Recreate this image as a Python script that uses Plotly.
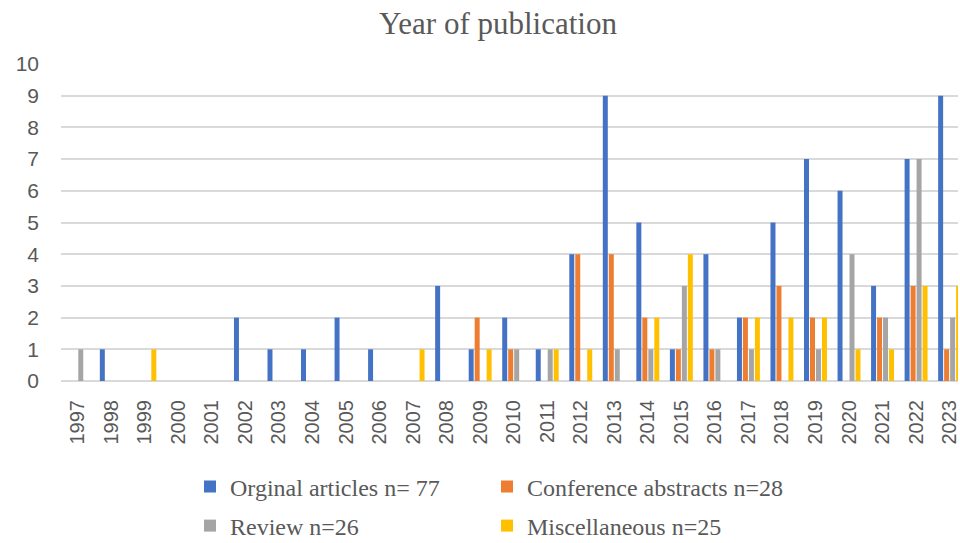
import plotly.graph_objects as go

# Publication counts per year, split by type of publication
years = ["1997", "1998", "1999", "2000", "2001", "2002", "2003", "2004", "2005",
         "2006", "2007", "2008", "2009", "2010", "2011", "2012", "2013", "2014",
         "2015", "2016", "2017", "2018", "2019", "2020", "2021", "2022", "2023"]

original_articles = [0, 1, 0, 0, 0, 2, 1, 1, 2, 1, 0, 3, 1, 2, 1, 4, 9, 5, 1, 4, 2, 5, 7, 6, 3, 7, 9]
conference_abstracts = [0, 0, 0, 0, 0, 0, 0, 0, 0, 0, 0, 0, 2, 1, 0, 4, 4, 2, 1, 1, 2, 3, 2, 0, 2, 3, 1]
reviews = [1, 0, 0, 0, 0, 0, 0, 0, 0, 0, 0, 0, 0, 1, 1, 0, 1, 1, 3, 1, 1, 0, 1, 4, 2, 7, 2]
miscellaneous = [0, 0, 1, 0, 0, 0, 0, 0, 0, 0, 1, 0, 1, 0, 1, 1, 0, 2, 4, 0, 2, 2, 2, 1, 1, 3, 3]

series_names = ["Orginal articles n= 77", "Conference abstracts n=28",
                "Review n=26", "Miscellaneous n=25"]
series_values = [original_articles, conference_abstracts, reviews, miscellaneous]
series_colors = ["#4472C4", "#ED7D31", "#A5A5A5", "#FFC000"]
series_legends = ["legend", "legend", "legend2", "legend2"]

y_ticks = [0, 1, 2, 3, 4, 5, 6, 7, 8, 9, 10]

TEXT_GREY = "#595959"
SANS = "Liberation Sans, Arial, sans-serif"
SERIF = "Liberation Serif, Times New Roman, serif"

fig = go.Figure()
for name, vals, color, leg in zip(series_names, series_values, series_colors, series_legends):
    fig.add_trace(go.Bar(
        x=years, y=vals, name=name,
        marker=dict(color=color, line=dict(width=0)),
        legend=leg,
    ))

legend_common = dict(
    orientation="h",
    xref="container", yref="container",
    xanchor="left", yanchor="middle",
    font=dict(family=SERIF, size=24, color=TEXT_GREY),
    entrywidth=252, entrywidthmode="pixels",
    bgcolor="rgba(0,0,0,0)", borderwidth=0,
    itemclick=False, itemdoubleclick=False,
)

fig.update_layout(
    width=960, height=543,
    margin=dict(l=61, r=0, t=64, b=162),
    paper_bgcolor="white", plot_bgcolor="white",
    barmode="group", bargap=0.286, bargroupgap=0.167,
    title=dict(
        text="Year of publication",
        font=dict(family=SERIF, size=31, color=TEXT_GREY),
        xref="container", yref="container",
        x=498 / 960, xanchor="center",
        y=1 - 23 / 543, yanchor="middle",
    ),
    xaxis=dict(
        type="category", categoryorder="array", categoryarray=years,
        range=[-0.5, 26.25],
        tickangle=-90,
        tickfont=dict(family=SANS, size=20, color=TEXT_GREY),
        showgrid=False, showline=False, zeroline=False,
        ticks="", ticklabelstandoff=14,
    ),
    yaxis=dict(
        range=[0, 10], tickvals=y_ticks,
        tickfont=dict(family=SANS, size=21, color=TEXT_GREY),
        showgrid=True, gridcolor="#D9D9D9", gridwidth=1.5,
        zeroline=True, zerolinecolor="#D9D9D9", zerolinewidth=1.5,
        showline=False, ticks="", ticklabelstandoff=21,
    ),
    legend=dict(legend_common, x=190 / 960, y=1 - 487 / 543),
    legend2=dict(legend_common, x=190 / 960, y=1 - 526 / 543),
    showlegend=True,
)

fig.write_html("out.html")
